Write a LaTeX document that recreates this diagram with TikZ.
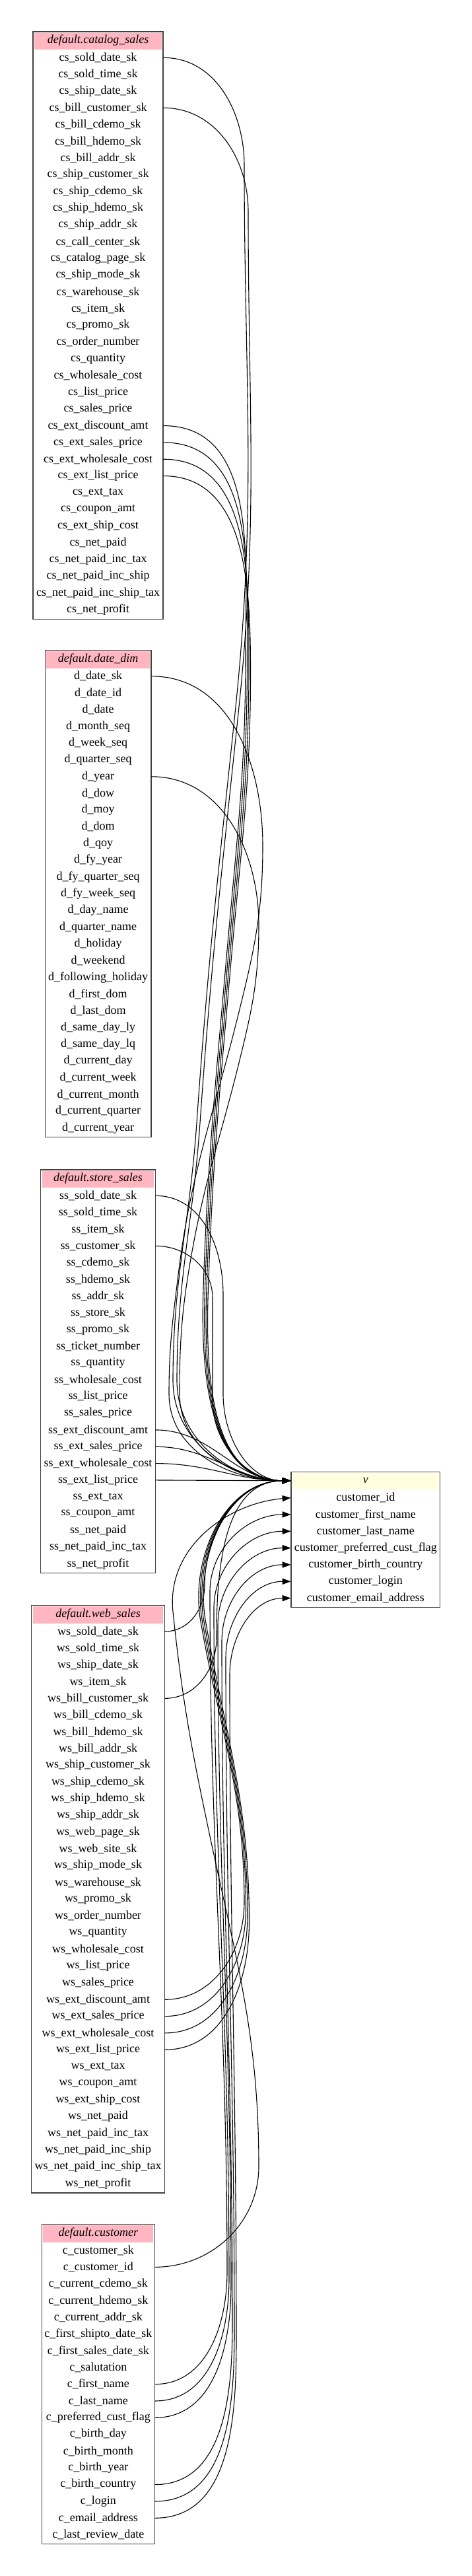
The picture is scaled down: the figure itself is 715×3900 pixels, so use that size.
\documentclass[tikz,border=0pt]{standalone}
\usepackage{fontspec}
\setmainfont{Liberation Serif}
\usetikzlibrary{arrows.meta}
\definecolor{hdrpink}{HTML}{FFB6C1}
\definecolor{hdryellow}{HTML}{FFFFE0}
\tikzset{
  tblframe/.style={draw=black!75, line width=0.6pt},
  hdrtext/.style={inner sep=0pt, font=\fontsize{9}{10}\selectfont\itshape, anchor=center},
  rowtext/.style={inner sep=0pt, minimum height=12.66pt, font=\fontsize{9}{10}\selectfont, anchor=center},
  fk/.style={draw=black, line width=0.55pt, -{Triangle[length=6.5pt,width=4.6pt]}},
}
% #1 name, #2 x centre, #3 top (downwards), #4 width, #5 header, #6 header colour, #7 rows count, #8 rows
\newcommand\dbtable[8]{%
  \fill[#6] ({#2-#4/2+2}, {-(#3+1.7)}) rectangle ({#2+#4/2-2}, {-(#3+27)});
  \node[hdrtext, minimum width={#4*0.5pt}, minimum height=13.5pt] (#1) at (#2, {-(#3+13.5)}) {#5};
  \foreach \rw [count=\k] in {#8} {
    \node[rowtext, minimum width={#4*0.5pt}] (\rw) at (#2, {-(#3+39.3+(\k-1)*25.33)}) {\rw};
  }
  \draw[tblframe] ({#2-#4/2}, {-#3}) rectangle ({#2+#4/2}, {-(#3+39.3+(#7-1)*25.33+14)});
}
\begin{document}
\catcode`\_=12
\begin{tikzpicture}[x=0.5pt,y=0.5pt]
\useasboundingbox (0,0) rectangle (715,-3900);
\fill[white] (0,0) rectangle (715,-3900);

\dbtable{catalog_sales}{148.5}{48}{197}{default.catalog_sales}{hdrpink}{34}{cs_sold_date_sk,cs_sold_time_sk,cs_ship_date_sk,cs_bill_customer_sk,cs_bill_cdemo_sk,cs_bill_hdemo_sk,cs_bill_addr_sk,cs_ship_customer_sk,cs_ship_cdemo_sk,cs_ship_hdemo_sk,cs_ship_addr_sk,cs_call_center_sk,cs_catalog_page_sk,cs_ship_mode_sk,cs_warehouse_sk,cs_item_sk,cs_promo_sk,cs_order_number,cs_quantity,cs_wholesale_cost,cs_list_price,cs_sales_price,cs_ext_discount_amt,cs_ext_sales_price,cs_ext_wholesale_cost,cs_ext_list_price,cs_ext_tax,cs_coupon_amt,cs_ext_ship_cost,cs_net_paid,cs_net_paid_inc_tax,cs_net_paid_inc_ship,cs_net_paid_inc_ship_tax,cs_net_profit}

\dbtable{date_dim}{148.7}{984.5}{160.7}{default.date_dim}{hdrpink}{28}{d_date_sk,d_date_id,d_date,d_month_seq,d_week_seq,d_quarter_seq,d_year,d_dow,d_moy,d_dom,d_qoy,d_fy_year,d_fy_quarter_seq,d_fy_week_seq,d_day_name,d_quarter_name,d_holiday,d_weekend,d_following_holiday,d_first_dom,d_last_dom,d_same_day_ly,d_same_day_lq,d_current_day,d_current_week,d_current_month,d_current_quarter,d_current_year}

\dbtable{store_sales}{148.5}{1771}{173.6}{default.store_sales}{hdrpink}{23}{ss_sold_date_sk,ss_sold_time_sk,ss_item_sk,ss_customer_sk,ss_cdemo_sk,ss_hdemo_sk,ss_addr_sk,ss_store_sk,ss_promo_sk,ss_ticket_number,ss_quantity,ss_wholesale_cost,ss_list_price,ss_sales_price,ss_ext_discount_amt,ss_ext_sales_price,ss_ext_wholesale_cost,ss_ext_list_price,ss_ext_tax,ss_coupon_amt,ss_net_paid,ss_net_paid_inc_tax,ss_net_profit}

\dbtable{web_sales}{148.5}{2430.7}{201.6}{default.web_sales}{hdrpink}{34}{ws_sold_date_sk,ws_sold_time_sk,ws_ship_date_sk,ws_item_sk,ws_bill_customer_sk,ws_bill_cdemo_sk,ws_bill_hdemo_sk,ws_bill_addr_sk,ws_ship_customer_sk,ws_ship_cdemo_sk,ws_ship_hdemo_sk,ws_ship_addr_sk,ws_web_page_sk,ws_web_site_sk,ws_ship_mode_sk,ws_warehouse_sk,ws_promo_sk,ws_order_number,ws_quantity,ws_wholesale_cost,ws_list_price,ws_sales_price,ws_ext_discount_amt,ws_ext_sales_price,ws_ext_wholesale_cost,ws_ext_list_price,ws_ext_tax,ws_coupon_amt,ws_ext_ship_cost,ws_net_paid,ws_net_paid_inc_tax,ws_net_paid_inc_ship,ws_net_paid_inc_ship_tax,ws_net_profit}

\dbtable{customer}{148.8}{3367.7}{171}{default.customer}{hdrpink}{18}{c_customer_sk,c_customer_id,c_current_cdemo_sk,c_current_hdemo_sk,c_current_addr_sk,c_first_shipto_date_sk,c_first_sales_date_sk,c_salutation,c_first_name,c_last_name,c_preferred_cust_flag,c_birth_day,c_birth_month,c_birth_year,c_birth_country,c_login,c_email_address,c_last_review_date}

\dbtable{v}{553.85}{2228.3}{225.7}{v}{hdryellow}{7}{customer_id,customer_first_name,customer_last_name,customer_preferred_cust_flag,customer_birth_country,customer_login,customer_email_address}

% ---- edges from catalog_sales
\draw[fk] (cs_sold_date_sk.east) to[out=0,in=90] (370,-250) to[out=-90,in=84] (356,-1080) to[out=-96,in=86] (298,-1700) to[out=-94,in=90] (262,-2090) to[out=-90,in=180] (v.west);
\draw[fk] (cs_bill_customer_sk.east) to[out=0,in=90] (376,-320) to[out=-90,in=84] (361,-1080) to[out=-96,in=86] (303,-1700) to[out=-94,in=90] (268,-2090) to[out=-90,in=180] (v.west);
\draw[fk] (cs_ext_discount_amt.east) to[out=0,in=90] (372,-990) to[out=-90,in=85] (343,-1450) to[out=-95,in=88] (308,-1950) to[out=-92,in=180] (v.west);
\draw[fk] (cs_ext_sales_price.east) to[out=0,in=90] (374.5,-1000) to[out=-90,in=85] (345.5,-1450) to[out=-95,in=88] (310.5,-1950) to[out=-92,in=180] (v.west);
\draw[fk] (cs_ext_wholesale_cost.east) to[out=0,in=90] (377,-1010) to[out=-90,in=85] (348,-1450) to[out=-95,in=88] (313,-1950) to[out=-92,in=180] (v.west);
\draw[fk] (cs_ext_list_price.east) to[out=0,in=90] (379.5,-1020) to[out=-90,in=85] (350.5,-1450) to[out=-95,in=88] (315.5,-1950) to[out=-92,in=180] (v.west);

% ---- edges from date_dim
\draw[fk] (d_date_sk.east) to[out=0,in=90] (398,-1280) to[out=-90,in=76] (360,-1540) to[out=-104,in=83] (270,-1930) to[out=-97,in=90] (256,-2110) to[out=-90,in=180] (v.west);
\draw[fk] (d_year.east) to[out=0,in=90] (392,-1400) to[out=-90,in=76] (360,-1617) to[out=-104,in=80] (290,-1900) to[out=-100,in=90] (272,-2110) to[out=-90,in=180] (v.west);

% ---- edges from store_sales
\draw[fk] (ss_sold_date_sk.east) to[out=0,in=90] (338,-1960) -- (338,-2110) to[out=-90,in=180] (v.west);
\draw[fk] (ss_customer_sk.east) to[out=0,in=90] (322,-1965) -- (322,-2120) to[out=-90,in=180] (v.west);
\draw[fk] (ss_ext_discount_amt.east) to[out=0,in=180] (v.west);
\draw[fk] (ss_ext_sales_price.east) to[out=0,in=180] (v.west);
\draw[fk] (ss_ext_wholesale_cost.east) to[out=0,in=180] (v.west);
\draw[fk] (ss_ext_list_price.east) -- (v.west);

% ---- edges from web_sales
\draw[fk] (ws_sold_date_sk.east) to[out=0,in=-90] (310,-2400) to[out=90,in=180] (v.west);
\draw[fk] (ws_bill_customer_sk.east) to[out=0,in=-90] (328,-2480) to[out=90,in=180] (v.west);
\draw[fk] (ws_ext_discount_amt.east) to[out=0,in=-90] (370,-2880) to[out=90,in=-80] (304,-2455) to[out=100,in=180] (v.west);
\draw[fk] (ws_ext_sales_price.east) to[out=0,in=-90] (372.5,-2890) to[out=90,in=-80] (306.5,-2455) to[out=100,in=180] (v.west);
\draw[fk] (ws_ext_wholesale_cost.east) to[out=0,in=-90] (375,-2900) to[out=90,in=-80] (309,-2455) to[out=100,in=180] (v.west);
\draw[fk] (ws_ext_list_price.east) to[out=0,in=-90] (377.5,-2910) to[out=90,in=-80] (311.5,-2455) to[out=100,in=180] (v.west);

% ---- edges from customer
\draw[fk] (c_customer_id.east) to[out=0,in=-90] (392,-3280) to[out=90,in=-78] (318,-2780) to[out=102,in=-84] (262,-2440) to[out=96,in=185] (customer_id.west);
\draw[fk] (c_first_name.east) to[out=0,in=-90] (344,-3440) to[out=90,in=-90] (318,-2410) to[out=90,in=180] (customer_first_name.west);
\draw[fk] (c_last_name.east) to[out=0,in=-90] (347,-3450) to[out=90,in=-90] (324,-2435) to[out=90,in=180] (customer_last_name.west);
\draw[fk] (c_preferred_cust_flag.east) to[out=0,in=-90] (350,-3460) to[out=90,in=-90] (330,-2460) to[out=90,in=180] (customer_preferred_cust_flag.west);
\draw[fk] (c_birth_country.east) to[out=0,in=-90] (352,-3520) to[out=90,in=-90] (336,-2485) to[out=90,in=180] (customer_birth_country.west);
\draw[fk] (c_login.east) to[out=0,in=-90] (355,-3530) to[out=90,in=-90] (342,-2510) to[out=90,in=180] (customer_login.west);
\draw[fk] (c_email_address.east) to[out=0,in=-90] (358,-3540) to[out=90,in=-90] (348,-2535) to[out=90,in=180] (customer_email_address.west);
\end{tikzpicture}
\end{document}
